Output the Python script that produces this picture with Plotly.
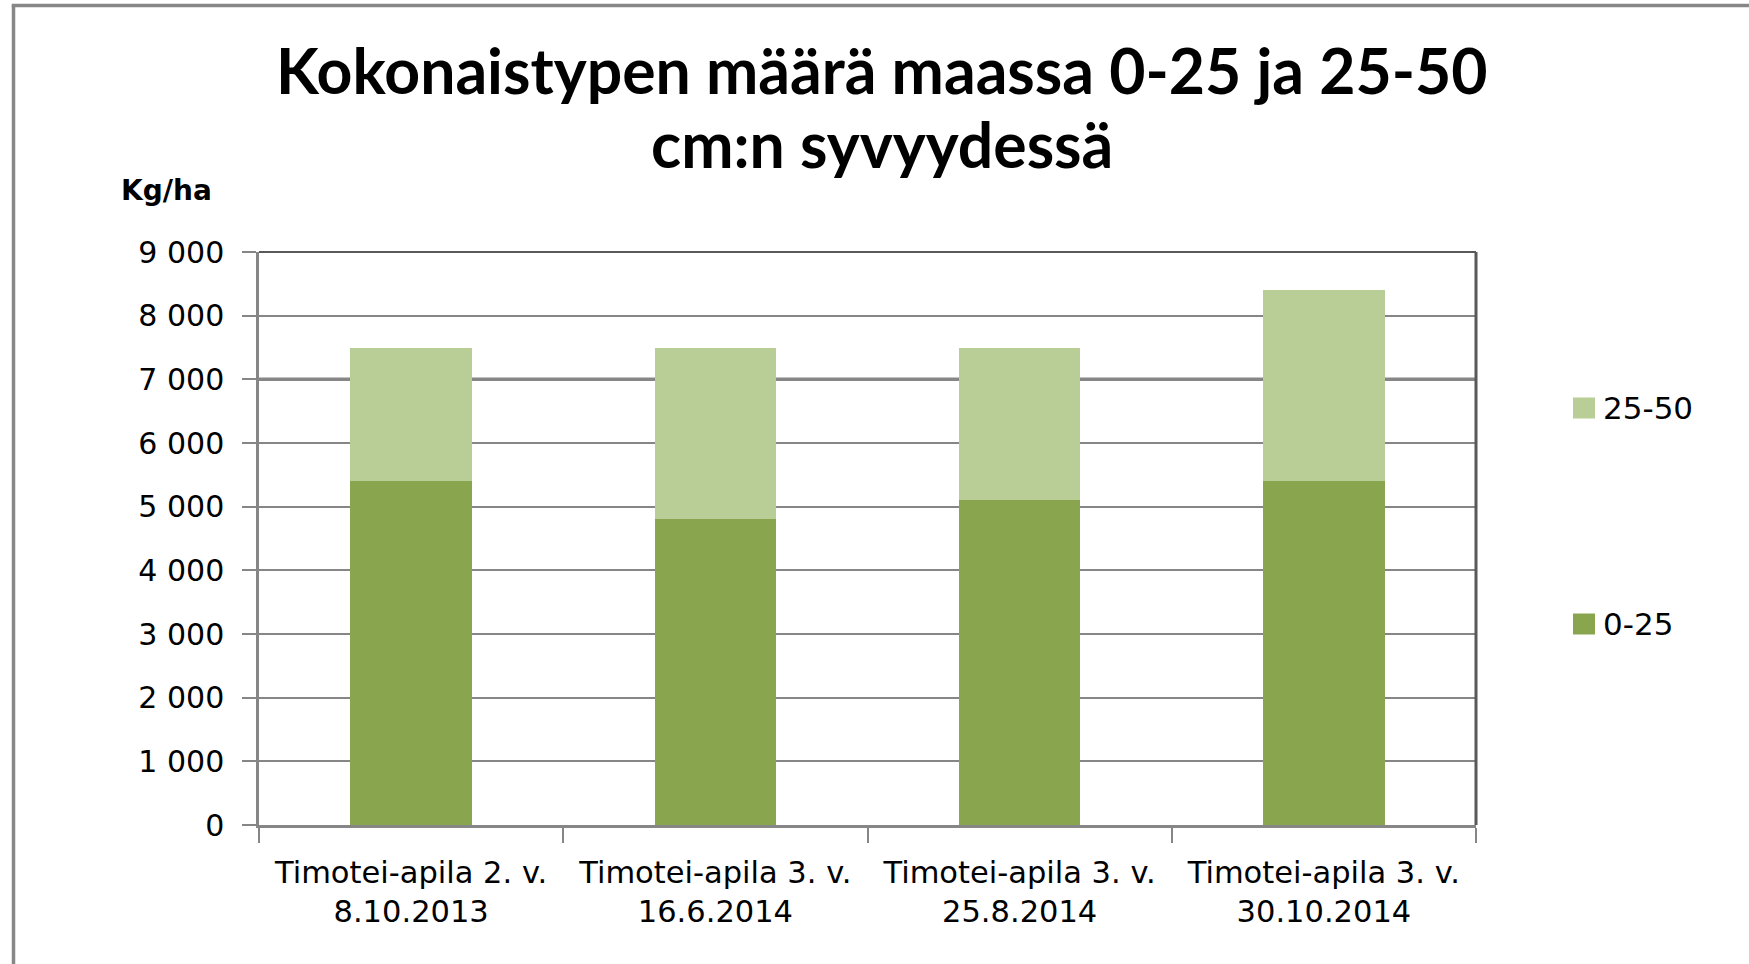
import plotly.graph_objects as go

categories = ["Timotei-apila 2. v.<br>8.10.2013", "Timotei-apila 3. v.<br>16.6.2014",
              "Timotei-apila 3. v.<br>25.8.2014", "Timotei-apila 3. v.<br>30.10.2014"]
series_names = ["0-25", "25-50"]
depth_0_25 = [5400, 4800, 5100, 5400]
depth_25_50 = [2100, 2700, 2400, 3000]
y_ticks = [0, 1000, 2000, 3000, 4000, 5000, 6000, 7000, 8000, 9000]
y_tick_labels = ["0", "1 000", "2 000", "3 000", "4 000", "5 000", "6 000", "7 000", "8 000", "9 000"]
title_lines = ["Kokonaistypen määrä maassa 0-25 ja 25-50", "cm:n syvyydessä"]
y_unit = "Kg/ha"

colors = ["#89A54E", "#B9CD96"]

W, H = 1749, 964
L, R, T, B = 259, 1476, 252, 825


def px(x):
    return (x - L) / (R - L)


def py(y):
    return (B - y) / (B - T)


fig = go.Figure()
for name, vals, c in zip(series_names, [depth_0_25, depth_25_50], colors):
    fig.add_trace(go.Bar(x=categories, y=vals, name=name, marker=dict(color=c, line=dict(width=0)),
                         showlegend=False))

shapes = []
annotations = []

# thicker 7000 gridline (as in the reference)
shapes.append(dict(type="line", xref="paper", yref="y", x0=0, x1=1, y0=7000, y1=7000,
                   line=dict(color="#868686", width=3.5), layer="below"))
# plot-area frame (top and right, darker)
shapes.append(dict(type="line", xref="paper", yref="paper", x0=0, x1=1, y0=1, y1=1,
                   line=dict(color="#595959", width=2), layer="above"))
shapes.append(dict(type="line", xref="paper", yref="paper", x0=1, x1=1, y0=0, y1=1,
                   line=dict(color="#595959", width=3), layer="above"))
# outer chart border (left and top; right/bottom fall outside the image)
shapes.append(dict(type="line", xref="paper", yref="paper", x0=px(13.5), x1=px(13.5),
                   y0=py(1000), y1=py(5.5), line=dict(color="#878787", width=3.5)))
shapes.append(dict(type="line", xref="paper", yref="paper", x0=px(11.7), x1=px(1800),
                   y0=py(5.5), y1=py(5.5), line=dict(color="#878787", width=3.5)))

# manual legend (25-50 on top, 0-25 below)
legend_rows = [(series_names[1], colors[1], 408), (series_names[0], colors[0], 624)]
for name, c, yc in legend_rows:
    shapes.append(dict(type="rect", xref="paper", yref="paper", x0=px(1573), x1=px(1595),
                       y0=py(yc + 10.5), y1=py(yc - 10.5), fillcolor=c, line=dict(width=0)))
    annotations.append(dict(text=name, xref="paper", yref="paper", x=px(1601), y=py(yc),
                            xanchor="left", yanchor="middle", showarrow=False,
                            font=dict(family="DejaVu Sans", size=31, color="#000000")))

# title (two lines, placed separately to match line spacing)
for line, yc in zip(title_lines, [70, 143]):
    annotations.append(dict(text="<b>" + line + "</b>", xref="paper", yref="paper",
                            x=px(882), y=py(yc), xanchor="center", yanchor="middle",
                            showarrow=False, align="center",
                            font=dict(family="Lato", size=62.5, color="#000000")))
# unit label
annotations.append(dict(text="<b>" + y_unit + "</b>", xref="paper", yref="paper",
                        x=px(166), y=py(191), xanchor="center", yanchor="middle",
                        showarrow=False, font=dict(family="DejaVu Sans", size=28, color="#000000")))

fig.update_layout(
    width=W, height=H,
    margin=dict(l=L, r=W - R, t=T, b=H - B, pad=0),
    paper_bgcolor="white", plot_bgcolor="white",
    barmode="stack", bargap=0.6,
    showlegend=False,
    shapes=shapes, annotations=annotations,
    font=dict(family="DejaVu Sans", color="#000000"),
)
fig.update_xaxes(
    showline=True, linecolor="#868686", linewidth=3,
    ticks="outside", tickson="boundaries", ticklen=15, tickcolor="#868686", tickwidth=1.5,
    tickfont=dict(family="DejaVu Sans", size=30.5, color="#000000"),
    ticklabelstandoff=18,
    showgrid=False,
)
fig.update_yaxes(
    range=[0, 9000], tickvals=y_ticks, ticktext=y_tick_labels,
    showline=True, linecolor="#868686", linewidth=2.5,
    ticks="outside", ticklen=14, tickcolor="#868686", tickwidth=1.5,
    tickfont=dict(family="DejaVu Sans", size=30, color="#000000"),
    ticklabelstandoff=12,
    showgrid=True, gridcolor="#868686", gridwidth=1.5,
    zeroline=False,
)

fig.write_html("out.html", config={"displayModeBar": False},
               post_script="document.body.style.margin='0';document.body.style.overflow='hidden';")
